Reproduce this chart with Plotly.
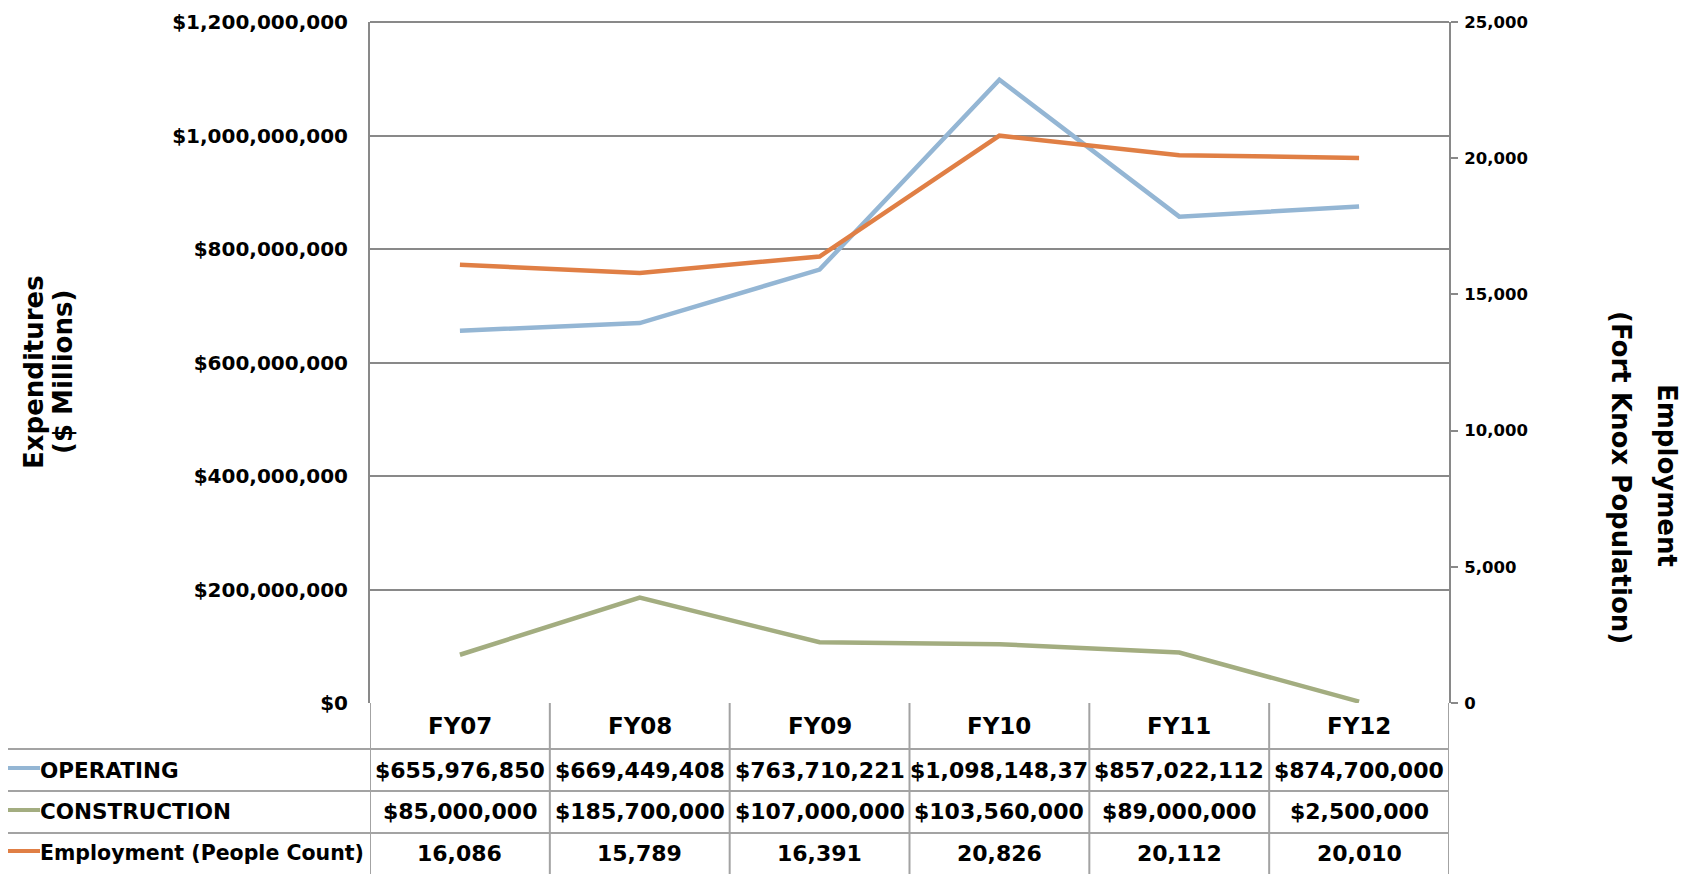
import plotly.graph_objects as go

# ---------------- data ----------------
years = ["FY07", "FY08", "FY09", "FY10", "FY11", "FY12"]
operating = [655976850, 669449408, 763710221, 1098148370, 857022112, 874700000]
construction = [85000000, 185700000, 107000000, 103560000, 89000000, 2500000]
employment = [16086, 15789, 16391, 20826, 20112, 20010]
series_names = ["OPERATING", "CONSTRUCTION", "Employment (People Count)"]
left_ticks = [0, 200000000, 400000000, 600000000, 800000000, 1000000000, 1200000000]
right_ticks = [0, 5000, 10000, 15000, 20000, 25000]

# ---------------- styling ----------------
W, H = 1694, 874
OFF = 8  # page body margin
L, T = 362, 14
PLOT_RIGHT, PLOT_BOTTOM = 1441, 695
R, B = W - PLOT_RIGHT, H - PLOT_BOTTOM
PW, PH = PLOT_RIGHT - L, PLOT_BOTTOM - T
FONT = "DejaVu Sans"
BLUE = "#94B6D4"
GREEN = "#A3AD80"
ORANGE = "#E07F45"
GRID = "#898989"
TGRID = "#A3A3A3"
TXT = "#000000"
LABEL_SIZES = [21.5, 21.5, 20.5]


def xp(px):  # page pixel x -> paper
    return (px - OFF - L) / PW


def yp(py):  # page pixel y -> paper
    return (PLOT_BOTTOM - (py - OFF)) / PH


fig = go.Figure()
fig.add_trace(go.Scatter(x=years, y=operating, mode="lines", name=series_names[0],
                         line=dict(color=BLUE, width=4.5), yaxis="y"))
fig.add_trace(go.Scatter(x=years, y=construction, mode="lines", name=series_names[1],
                         line=dict(color=GREEN, width=4.5), yaxis="y"))
fig.add_trace(go.Scatter(x=years, y=employment, mode="lines", name=series_names[2],
                         line=dict(color=ORANGE, width=4.5), yaxis="y2"))

fig.update_layout(
    width=W, height=H,
    margin=dict(l=L, r=R, t=T, b=B, pad=0, autoexpand=False),
    paper_bgcolor="white", plot_bgcolor="white",
    showlegend=False,
    font=dict(family=FONT, color=TXT),
    xaxis=dict(type="category", range=[-0.5, 5.5], showticklabels=False, showgrid=False,
               zeroline=False, showline=False, ticks="", automargin=False),
    yaxis=dict(range=[0, 1200000000], tickvals=left_ticks, tickformat="$,.0f",
               showgrid=True, gridcolor=GRID, gridwidth=2, zeroline=False,
               showline=True, linecolor=GRID, linewidth=2, ticks="",
               ticklabelstandoff=16, automargin=False,
               tickfont=dict(family=FONT, size=20, color=TXT, weight="bold")),
    yaxis2=dict(range=[0, 25000], tickvals=right_ticks, tickformat=",", overlaying="y",
                side="right", showgrid=False, zeroline=False, showline=True,
                linecolor=GRID, linewidth=2, ticks="outside", ticklen=7, tickwidth=2,
                tickcolor=GRID, ticklabelstandoff=3, automargin=False,
                tickfont=dict(family=FONT, size=16.5, color=TXT, weight="bold")),
)

shapes = []
annotations = []
value_font = dict(family=FONT, size=22, color=TXT, weight="bold")
header_font = dict(family=FONT, size=23, color=TXT, weight="bold")

# top border line
shapes.append(dict(type="line", xref="paper", yref="paper", x0=0, x1=1, y0=1, y1=1,
                   line=dict(color=GRID, width=2)))

# table geometry (page pixel rows)
header_c = 726
row_c = [770, 812, 853]
row_lines = [749, 791, 833]
for py in row_lines:
    shapes.append(dict(type="line", xref="paper", yref="paper", x0=xp(0), x1=1,
                       y0=yp(py), y1=yp(py), line=dict(color=TGRID, width=2)))
for i in range(len(years) + 1):
    shapes.append(dict(type="line", xref="x", yref="paper", x0=i - 0.5, x1=i - 0.5,
                       y0=0, y1=yp(H + OFF), line=dict(color=TGRID, width=2)))

for yr in years:
    annotations.append(dict(x=yr, xref="x", y=yp(header_c), yref="paper", text=yr,
                            showarrow=False, xanchor="center", yanchor="middle",
                            font=header_font))

row_texts = [
    [f"${v:,}"[:13] for v in operating],
    [f"${v:,}" for v in construction],
    [f"{v:,}" for v in employment],
]
colors = [BLUE, GREEN, ORANGE]
for r in range(3):
    for yr, t in zip(years, row_texts[r]):
        annotations.append(dict(x=yr, xref="x", y=yp(row_c[r]), yref="paper", text=t,
                                showarrow=False, xanchor="center", yanchor="middle",
                                font=value_font))
    shapes.append(dict(type="line", xref="paper", yref="paper", x0=xp(0), x1=xp(40),
                       y0=yp(row_c[r] - 2), y1=yp(row_c[r] - 2),
                       line=dict(color=colors[r], width=4)))
    annotations.append(dict(x=xp(38), xref="paper", y=yp(row_c[r]), yref="paper",
                            text=series_names[r], showarrow=False, xanchor="left",
                            yanchor="middle",
                            font=dict(family=FONT, size=LABEL_SIZES[r], color=TXT,
                                      weight="bold")))

# axis titles
title_font = dict(family=FONT, size=26, color=TXT, weight="bold")
annotations.append(dict(x=xp(34), xref="paper", y=yp(372), yref="paper", text="Expenditures",
                        textangle=-90, showarrow=False, xanchor="center", yanchor="middle",
                        font=title_font))
annotations.append(dict(x=xp(63), xref="paper", y=yp(372), yref="paper", text="($ Millions)",
                        textangle=-90, showarrow=False, xanchor="center", yanchor="middle",
                        font=title_font))
annotations.append(dict(x=xp(1667), xref="paper", y=yp(475), yref="paper", text="Employment",
                        textangle=90, showarrow=False, xanchor="center", yanchor="middle",
                        font=title_font))
annotations.append(dict(x=xp(1621), xref="paper", y=yp(477), yref="paper",
                        text="(Fort Knox Population)", textangle=90, showarrow=False,
                        xanchor="center", yanchor="middle", font=title_font))

fig.update_layout(shapes=shapes, annotations=annotations)
fig.write_html("out.html")
